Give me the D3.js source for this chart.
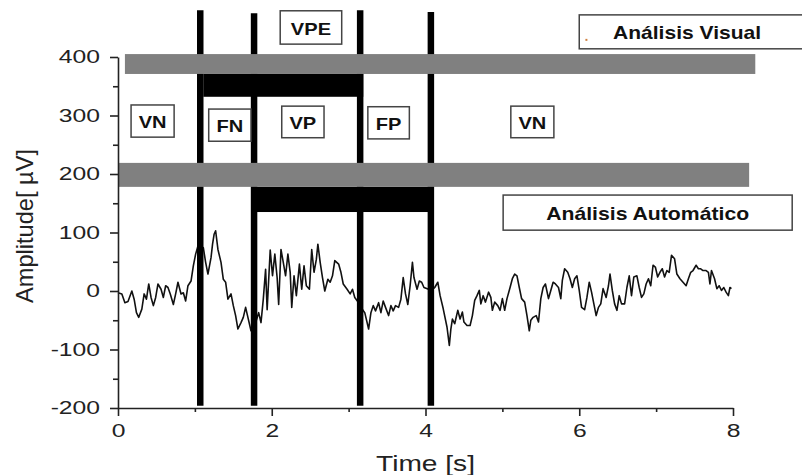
<!DOCTYPE html>
<html>
<head>
<meta charset="utf-8">
<script src="https://cdn.jsdelivr.net/npm/d3@7"></script>
<style>
  html, body { margin: 0; padding: 0; background: #fff; }
  svg { display: block; }
  text { font-family: "Liberation Sans", Arial, Helvetica, sans-serif; }
</style>
</head>
<body>
<svg id="chart" width="802" height="475"></svg>
<script>
// ---- data ----
const times = [0.00,0.05,0.09,0.13,0.18,0.21,0.24,0.27,0.31,0.34,0.37,0.40,0.43,0.46,0.49,0.52,0.56,0.59,0.62,0.65,
0.68,0.72,0.75,0.78,0.82,0.85,0.88,0.91,0.95,0.98,1.01,1.04,1.08,1.11,1.14,1.17,1.21,1.23,1.25,1.27,
1.30,1.34,1.37,1.40,1.43,1.47,1.50,1.53,1.56,1.60,1.63,1.66,1.69,1.73,1.76,1.80,1.83,1.86,1.89,1.92,
1.94,1.98,2.01,2.04,2.07,2.09,2.12,2.15,2.18,2.21,2.24,2.26,2.29,2.32,2.36,2.39,2.42,2.45,2.49,2.52,
2.55,2.58,2.60,2.63,2.66,2.69,2.73,2.76,2.79,2.82,2.87,2.90,2.93,2.98,3.02,3.05,3.08,3.13,3.17,3.21,
3.26,3.29,3.32,3.35,3.39,3.42,3.45,3.48,3.52,3.55,3.58,3.61,3.65,3.68,3.71,3.74,3.77,3.80,3.83,3.85,
3.89,3.92,3.95,3.98,4.04,4.08,4.12,4.16,4.19,4.23,4.28,4.31,4.33,4.35,4.38,4.42,4.45,4.48,4.50,4.54,
4.58,4.61,4.64,4.67,4.70,4.72,4.75,4.78,4.82,4.85,4.87,4.90,4.94,4.97,5.00,5.03,5.06,5.10,5.13,5.16,
5.19,5.22,5.25,5.29,5.32,5.35,5.37,5.40,5.44,5.47,5.50,5.53,5.56,5.60,5.63,5.66,5.69,5.73,5.76,5.78,
5.81,5.85,5.88,5.91,5.94,5.97,6.00,6.03,6.07,6.10,6.13,6.16,6.19,6.22,6.25,6.28,6.31,6.35,6.38,6.40,
6.43,6.46,6.49,6.52,6.55,6.59,6.62,6.65,6.68,6.71,6.75,6.78,6.81,6.84,6.87,6.90,6.93,6.96,6.99,7.02,
7.05,7.08,7.11,7.14,7.17,7.20,7.24,7.27,7.31,7.35,7.39,7.42,7.45,7.48,7.52,7.55,7.58,7.61,7.65,7.68,
7.70,7.72,7.76,7.79,7.82,7.85,7.88,7.91,7.94,7.96,7.98];
const amplitudes = [-3,-5,-20,-18,0,-14,-37,-45,-31,-5,-14,12,-11,-25,-11,12,3,-11,9,6,
-5,-23,-5,15,-5,-3,-17,9,17,43,63,77,71,74,49,29,57,80,97,103,
71,49,20,15,-14,-5,-25,-42,-65,-54,-45,-28,-45,-68,-65,-50,-37,-54,-14,37,
-32,70,26,63,23,-23,71,49,26,63,32,-28,26,-8,46,3,43,9,3,71,
32,54,80,49,23,0,20,15,26,52,46,32,12,3,-5,3,-11,-20,-30,-37,
-65,-37,-25,-34,-20,-37,-17,-28,-42,-25,-34,-25,-28,-14,23,-5,-23,9,49,23,
3,17,15,6,3,1,6,15,-8,-30,-62,-93,-65,-48,-56,-33,-48,-36,-53,-59,
-59,-42,-16,-8,1,-22,-8,-19,-2,-11,-33,-19,-25,-33,-13,-33,-13,6,21,29,
26,6,-13,-19,-42,-68,-50,-45,-42,-53,-13,6,12,-13,1,15,12,6,-13,18,
38,32,21,6,21,26,1,-28,-32,-11,15,-2,-22,-42,-28,-22,4,-11,9,29,
1,-22,-33,-8,-22,-22,6,26,-8,24,26,6,-11,-5,12,21,9,44,41,24,
32,38,24,35,32,61,55,29,21,15,9,21,32,35,44,38,38,35,35,32,
12,35,21,4,9,1,6,-2,-8,6,4];

const markerTimes = [1.07, 1.77, 3.15, 4.07];          // vertical decision lines [s]
const visualBand = [0.09, 8.29];                      // grey bar, visual analysis [s]
const visualBandAmp = [371, 405];                     // [µV]
const visualEvent = [1.11, 3.19];                     // black bar, visual detection [s]
const visualEventAmp = [332, 371];
const autoBand = [0.0, 8.21];                         // grey bar, automatic analysis
const autoBandAmp = [178, 219];
const autoEvent = [1.73, 4.10];                       // black bar, automatic detection
const autoEventAmp = [135, 178];

const xTicks = [0, 2, 4, 6, 8];
const xMinorTicks = [1, 3, 5, 7];
const yTicks = [-200, -100, 0, 100, 200, 300, 400];
const yMinorTicks = [-150, -50, 50, 150, 250, 350];

const segmentLabels = ["VN", "FN", "VP", "FP", "VN", "VPE"];
const segmentT = [[0.17, 0.73], [1.18, 1.73], [2.13, 2.68], [3.25, 3.79], [5.11, 5.67], [2.11, 2.91]];
const segmentV = [[263, 318], [256, 311], [262, 316], [260, 315], [262, 316], [422, 479]];
const legendLabels = ["Análisis Visual", "Análisis Automático"];
const xLabel = "Time [s]";
const yLabel = "Amplitude[ µV]";

// ---- chart ----
const svg = d3.select("#chart");
const x = d3.scaleLinear().domain([0, 8]).range([118, 733]);
const y = d3.scaleLinear().domain([-200, 400]).range([408, 57]);

svg.append("rect").attr("width", 802).attr("height", 475).attr("fill", "#fff");

// signal trace
const pts = times.map((t, i) => [t, amplitudes[i]]);
svg.append("path")
  .datum(pts)
  .attr("fill", "none")
  .attr("stroke", "#111")
  .attr("stroke-width", 1.6)
  .attr("stroke-linejoin", "round")
  .attr("d", d3.line().x(d => x(d[0])).y(d => y(d[1])));

// vertical decision lines
const lineTop = [480, 475, 480, 477];
svg.selectAll("line.marker")
  .data(markerTimes)
  .join("line")
  .attr("class", "marker")
  .attr("x1", d => x(d)).attr("x2", d => x(d))
  .attr("y1", (d, i) => y(lineTop[i])).attr("y2", y(-196))
  .attr("stroke", "#000").attr("stroke-width", 6.5);

// bars
function bar(tr, vr, fill) {
  svg.append("rect")
    .attr("x", x(tr[0])).attr("width", x(tr[1]) - x(tr[0]))
    .attr("y", y(vr[1])).attr("height", y(vr[0]) - y(vr[1]))
    .attr("fill", fill);
}
bar(visualEvent, visualEventAmp, "#000");
bar(autoEvent, autoEventAmp, "#000");
bar(visualBand, visualBandAmp, "#808080");
bar(autoBand, autoBandAmp, "#808080");

// stretch helper (the reference text is drawn wide)
function stretch(sel, f) {
  sel.each(function () {
    const w = this.getComputedTextLength();
    d3.select(this).attr("textLength", w * f).attr("lengthAdjust", "spacingAndGlyphs");
  });
}

// segment labels
segmentLabels.forEach((lab, i) => {
  const t0 = x(segmentT[i][0]), t1 = x(segmentT[i][1]);
  const yTop = y(segmentV[i][1]), yBot = y(segmentV[i][0]);
  svg.append("rect")
    .attr("x", t0).attr("y", yTop).attr("width", t1 - t0).attr("height", yBot - yTop)
    .attr("fill", "#fff").attr("stroke", "#444").attr("stroke-width", 1.5);
  const tx = svg.append("text")
    .attr("x", (t0 + t1) / 2).attr("y", yBot - 9)
    .attr("text-anchor", "middle")
    .attr("font-size", 17).attr("font-weight", "bold").attr("fill", "#111")
    .text(lab);
  stretch(tx, 1.18);
});

// legend boxes
svg.append("rect").attr("x", x(6.0)).attr("y", y(472)).attr("width", x(8.92) - x(6.0))
  .attr("height", y(414) - y(472)).attr("fill", "#fff").attr("stroke", "#444").attr("stroke-width", 1.5);
svg.append("rect").attr("x", x(6.08)).attr("y", y(431)).attr("width", 2).attr("height", 2).attr("fill", "#d08040");
svg.append("text").attr("x", x(6.44)).attr("y", y(430))
  .attr("font-size", 19).attr("font-weight", "bold").attr("fill", "#111")
  .attr("textLength", 148).attr("lengthAdjust", "spacingAndGlyphs")
  .text(legendLabels[0]);

svg.append("rect").attr("x", x(5.01)).attr("y", y(164)).attr("width", x(8.77) - x(5.01))
  .attr("height", y(104) - y(164)).attr("fill", "#fff").attr("stroke", "#444").attr("stroke-width", 1.5);
svg.append("text").attr("x", (x(5.01) + x(8.77)) / 2).attr("y", y(121))
  .attr("text-anchor", "middle")
  .attr("font-size", 18.5).attr("font-weight", "bold").attr("fill", "#111")
  .attr("textLength", 203).attr("lengthAdjust", "spacingAndGlyphs")
  .text(legendLabels[1]);

// axes
const fmt = d => String(d);
const xAxisG = svg.append("g").attr("transform", `translate(0,${y(-200)})`)
  .call(d3.axisBottom(x).tickValues(xTicks).tickFormat(fmt).tickSize(8).tickPadding(8).tickSizeOuter(0));
svg.append("g").attr("transform", `translate(0,${y(-200)})`)
  .call(d3.axisBottom(x).tickValues(xMinorTicks).tickFormat("").tickSize(4).tickSizeOuter(0))
  .call(g => g.select(".domain").remove());
const yAxisG = svg.append("g").attr("transform", `translate(${x(0)},0)`)
  .call(d3.axisLeft(y).tickValues(yTicks).tickFormat(fmt).tickSize(8).tickPadding(10).tickSizeOuter(0));
svg.append("g").attr("transform", `translate(${x(0)},0)`)
  .call(d3.axisLeft(y).tickValues(yMinorTicks).tickFormat("").tickSize(5).tickSizeOuter(0))
  .call(g => g.select(".domain").remove());

svg.selectAll(".domain, .tick line").attr("stroke", "#222").attr("stroke-width", 1.6);
[xAxisG, yAxisG].forEach(g => {
  g.selectAll("text").attr("font-size", 18).attr("fill", "#222")
    .attr("font-family", "'Liberation Sans', Arial, sans-serif");
  stretch(g.selectAll("text"), 1.37);
});

// axis titles
svg.append("text").attr("x", x(4.0)).attr("y", 471)
  .attr("text-anchor", "middle").attr("font-size", 22).attr("fill", "#222")
  .attr("textLength", 99).attr("lengthAdjust", "spacingAndGlyphs")
  .text(xLabel);
svg.append("text").attr("transform", "translate(33,226) rotate(-90)")
  .attr("text-anchor", "middle").attr("font-size", 24).attr("fill", "#222")
  .attr("textLength", 154).attr("lengthAdjust", "spacingAndGlyphs")
  .text(yLabel);
</script>
</body>
</html>
